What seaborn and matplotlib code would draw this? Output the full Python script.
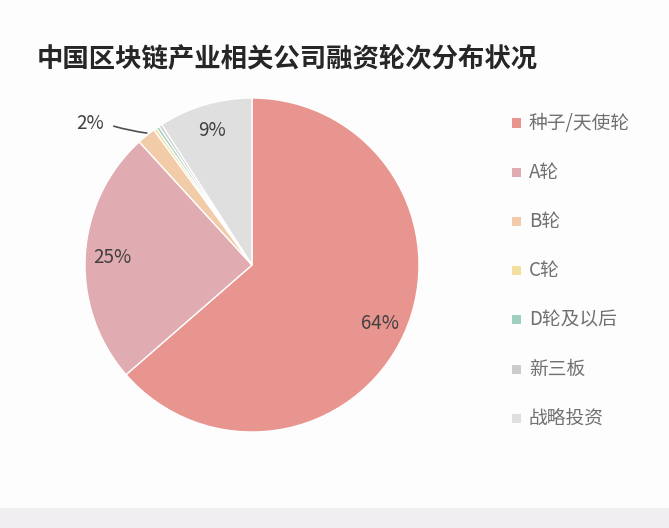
import matplotlib
matplotlib.use("Agg")
import matplotlib.pyplot as plt
import seaborn as sns
from matplotlib.patches import Rectangle

categories = ["种子/天使轮", "A轮", "B轮", "C轮", "D轮及以后", "新三板", "战略投资"]
values = [63.6, 24.6, 1.8, 0.3, 0.3, 0.3, 9.1]
colors_hex = ["#e8958f", "#e0abb1", "#f2cba8", "#f3dfa0", "#9fd0bf", "#cccccc", "#e0dfe0"]
title = "中国区块链产业相关公司融资轮次分布状况"

sns.set_theme(style="white")
plt.rcParams['font.family'] = ['Noto Sans CJK SC', 'DejaVu Sans']
palette = sns.color_palette(colors_hex)

W, H = 669, 528
fig = plt.figure(figsize=(W / 100, H / 100), dpi=100, facecolor="#fdfdfd")

# bottom grey band
fig.patches.append(Rectangle((0, 0), 1, 20 / H, transform=fig.transFigure,
                             facecolor="#f0eef1", edgecolor="none", zorder=0))

cx, cy, r = 252, 265, 167
ax = fig.add_axes([(cx - r) / W, (H - cy - r) / H, 2 * r / W, 2 * r / H])
ax.set_facecolor("none")

def fmt(p):
    return f"{p:.0f}%" if p >= 5 else ""

wedges, texts, autotexts = ax.pie(values, colors=palette, startangle=90, counterclock=False,
                                  autopct=fmt, pctdistance=0.84,
                                  wedgeprops=dict(edgecolor="white", linewidth=1),
                                  textprops=dict(fontsize=13.5, color="#404040"))
ax.set_xlim(-1, 1)
ax.set_ylim(-1, 1)
ax.set_aspect("equal")
ax.axis("off")

# label for B轮 with leader line
ax.annotate(f"{values[2]:.0f}%", xy=(-0.63, 0.79), xytext=(-0.97, 0.85),
            ha="center", va="center", fontsize=13.5, color="#404040",
            arrowprops=dict(arrowstyle="-", color="#505050", lw=1.2,
                            connectionstyle="arc3,rad=0.05", relpos=(1, 0.5),
                            shrinkA=5, shrinkB=0),
            annotation_clip=False)

fig.text(37 / W, 1 - 60 / H, title, fontsize=19, fontweight="bold", color="#262626",
         ha="left", va="center")

# legend
y0 = 123
for i, (lab, col) in enumerate(zip(categories, palette)):
    y = y0 + i * 49.2
    fig.patches.append(Rectangle((512 / W, 1 - (y + 4.5) / H), 9 / W, 9 / H,
                                 transform=fig.transFigure, facecolor=col, edgecolor="none"))
    fig.text(529 / W, 1 - y / H, lab, fontsize=13.5, color="#707070", ha="left", va="center")

fig.savefig("out.png", dpi=100, facecolor=fig.get_facecolor())
